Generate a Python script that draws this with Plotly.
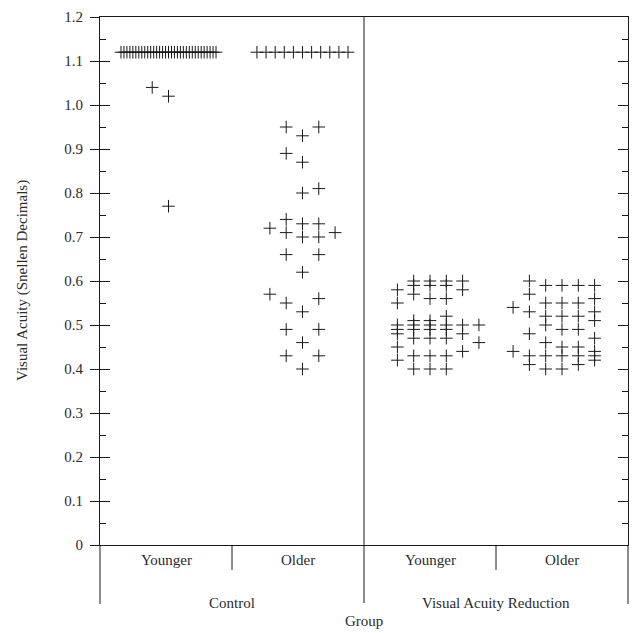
import plotly.graph_objects as go

# ---------------- data ----------------
group_labels = ["Control", "Visual Acuity Reduction"]
age_labels = ["Younger", "Older", "Younger", "Older"]
y_tick_vals = [0, 0.1, 0.2, 0.3, 0.4, 0.5, 0.6, 0.7, 0.8, 0.9, 1.0, 1.1, 1.2]
y_tick_text = ["0", "0.1", "0.2", "0.3", "0.4", "0.5", "0.6", "0.7", "0.8", "0.9", "1.0", "1.1", "1.2"]

ceiling_value = 1.12
ctrl_young_ceiling_n = 33
ctrl_old_ceiling_n = 11

# values below the ceiling, with their jitter slot (column) index
ctrl_young_vals = [1.04, 1.02, 0.77]
ctrl_young_cols = [-1, 0, 0]

ctrl_old_vals = [0.95, 0.95, 0.93, 0.89, 0.87, 0.81, 0.80, 0.74, 0.73, 0.73,
                 0.72, 0.71, 0.71, 0.70, 0.70, 0.66, 0.66, 0.62, 0.57, 0.56,
                 0.55, 0.53, 0.49, 0.49, 0.46, 0.43, 0.43, 0.40]
ctrl_old_cols = [-1, 1, 0, -1, 0, 1, 0, -1, 0, 1,
                 -2, -1, 2, 0, 1, -1, 1, 0, -2, 1,
                 -1, 0, -1, 1, 0, -1, 1, 0]

var_young_vals = [0.58, 0.55, 0.50, 0.49, 0.48, 0.45, 0.42,
                  0.60, 0.59, 0.57, 0.51, 0.50, 0.49, 0.47, 0.43, 0.40,
                  0.60, 0.59, 0.56, 0.51, 0.50, 0.49, 0.47, 0.43, 0.40,
                  0.60, 0.59, 0.56, 0.52, 0.50, 0.49, 0.47, 0.43, 0.40,
                  0.60, 0.58, 0.50, 0.48, 0.44,
                  0.50, 0.46]
var_young_cols = [-2] * 7 + [-1] * 9 + [0] * 9 + [1] * 9 + [2] * 5 + [3] * 2

var_old_vals = [0.54, 0.44,
                0.60, 0.57, 0.53, 0.48, 0.43, 0.41,
                0.59, 0.55, 0.52, 0.50, 0.46, 0.43, 0.40,
                0.59, 0.55, 0.52, 0.49, 0.45, 0.43, 0.40,
                0.59, 0.55, 0.52, 0.49, 0.45, 0.43, 0.41,
                0.59, 0.56, 0.53, 0.51, 0.47, 0.44, 0.43, 0.42]
var_old_cols = [-3] * 2 + [-2] * 6 + [-1] * 7 + [0] * 7 + [1] * 7 + [2] * 8

# ---------------- layout helpers ----------------
W, H = 637, 633
ML, MR, MT, MB = 100, 9, 17, 88
plot_h = H - MT - MB
COL_STEP = 0.1235          # category units per jitter column
INK = "#1a1a1a"
TXT = "#2b2b2b"
FONT = "Liberation Serif, Times New Roman, serif"
FS = 15


def spread(n, step):
    return [(i - (n - 1) / 2) * step for i in range(n)]


def group_points(center, vals, cols, ceiling_n=0, ceiling_step=0.0):
    xs, ys = [], []
    for off in spread(ceiling_n, ceiling_step):
        xs.append(center + off)
        ys.append(ceiling_value)
    for v, c in zip(vals, cols):
        xs.append(center + c * COL_STEP)
        ys.append(v)
    return xs, ys


sets = [
    group_points(1.019, ctrl_young_vals, ctrl_young_cols, ctrl_young_ceiling_n, 0.0225),
    group_points(2.034, ctrl_old_vals, ctrl_old_cols, ctrl_old_ceiling_n, 0.069),
    group_points(3.0, var_young_vals, var_young_cols),
    group_points(4.0, var_old_vals, var_old_cols),
]

fig = go.Figure()
for xs, ys in sets:
    fig.add_trace(go.Scatter(
        x=xs, y=ys, mode="markers", showlegend=False, hoverinfo="skip",
        marker=dict(symbol="cross-thin", size=9, color=INK,
                    line=dict(width=1, color=INK)),
    ))
# dummy trace so the overlay axis (inner ticks + mirrored right ticks) is drawn
fig.add_trace(go.Scatter(x=[None], y=[None], yaxis="y2", showlegend=False,
                         hoverinfo="skip", mode="markers"))


def py(px_below_axis):
    return -px_below_axis / plot_h


shapes = []
for xp, depth in [(0.0, 59), (0.25, 25), (0.75, 25), (1.0, 59)]:
    shapes.append(dict(type="line", xref="paper", yref="paper", x0=xp, x1=xp,
                       y0=0, y1=py(depth), line=dict(color=INK, width=1)))
shapes.append(dict(type="line", xref="paper", yref="paper", x0=0.5, x1=0.5,
                   y0=1, y1=py(58), line=dict(color=INK, width=1)))

annotations = []
for i, lab in enumerate(age_labels):
    annotations.append(dict(text=lab, xref="paper", yref="paper",
                            x=(i + 0.5) / 4, y=py(15), showarrow=False,
                            xanchor="center", yanchor="middle",
                            font=dict(family=FONT, size=FS, color=TXT)))
for i, lab in enumerate(group_labels):
    annotations.append(dict(text=lab, xref="paper", yref="paper",
                            x=0.25 + 0.5 * i, y=py(58), showarrow=False,
                            xanchor="center", yanchor="middle",
                            font=dict(family=FONT, size=FS, color=TXT)))
annotations.append(dict(text="Group", xref="paper", yref="paper", x=0.5, y=py(76),
                        showarrow=False, xanchor="center", yanchor="middle",
                        font=dict(family=FONT, size=FS, color=TXT)))
annotations.append(dict(text="Visual Acuity (Snellen Decimals)", xref="paper",
                        yref="paper", x=-78 / (W - ML - MR), y=0.5, textangle=-90,
                        showarrow=False, xanchor="center", yanchor="middle",
                        font=dict(family=FONT, size=FS, color=TXT)))

fig.update_layout(
    width=W, height=H,
    margin=dict(l=ML, r=MR, t=MT, b=MB, pad=0),
    paper_bgcolor="white", plot_bgcolor="white",
    shapes=shapes, annotations=annotations,
    xaxis=dict(range=[0.5, 4.5], showline=True, mirror=True, linecolor=INK,
               linewidth=1, ticks="", showticklabels=False, showgrid=False,
               zeroline=False, fixedrange=True),
    yaxis=dict(range=[0, 1.2], tickmode="array", tickvals=y_tick_vals,
               ticktext=y_tick_text, ticks="outside", ticklen=9, tickcolor=INK,
               showline=True, linecolor=INK, linewidth=1, showgrid=False,
               zeroline=False, tickfont=dict(family=FONT, size=FS, color=TXT),
               ticklabelstandoff=4),
    yaxis2=dict(range=[0, 1.2], overlaying="y", side="left", tickmode="array",
                tickvals=y_tick_vals, showticklabels=False, ticks="inside",
                ticklen=10, tickcolor=INK, showline=True, linecolor=INK,
                linewidth=1, mirror="ticks", showgrid=False, zeroline=False,
                minor=dict(ticks="inside", ticklen=6, tickcolor=INK,
                           tickvals=[0.05 + 0.1 * k for k in range(12)],
                           showgrid=False)),
)

fig.write_html("out.html")
